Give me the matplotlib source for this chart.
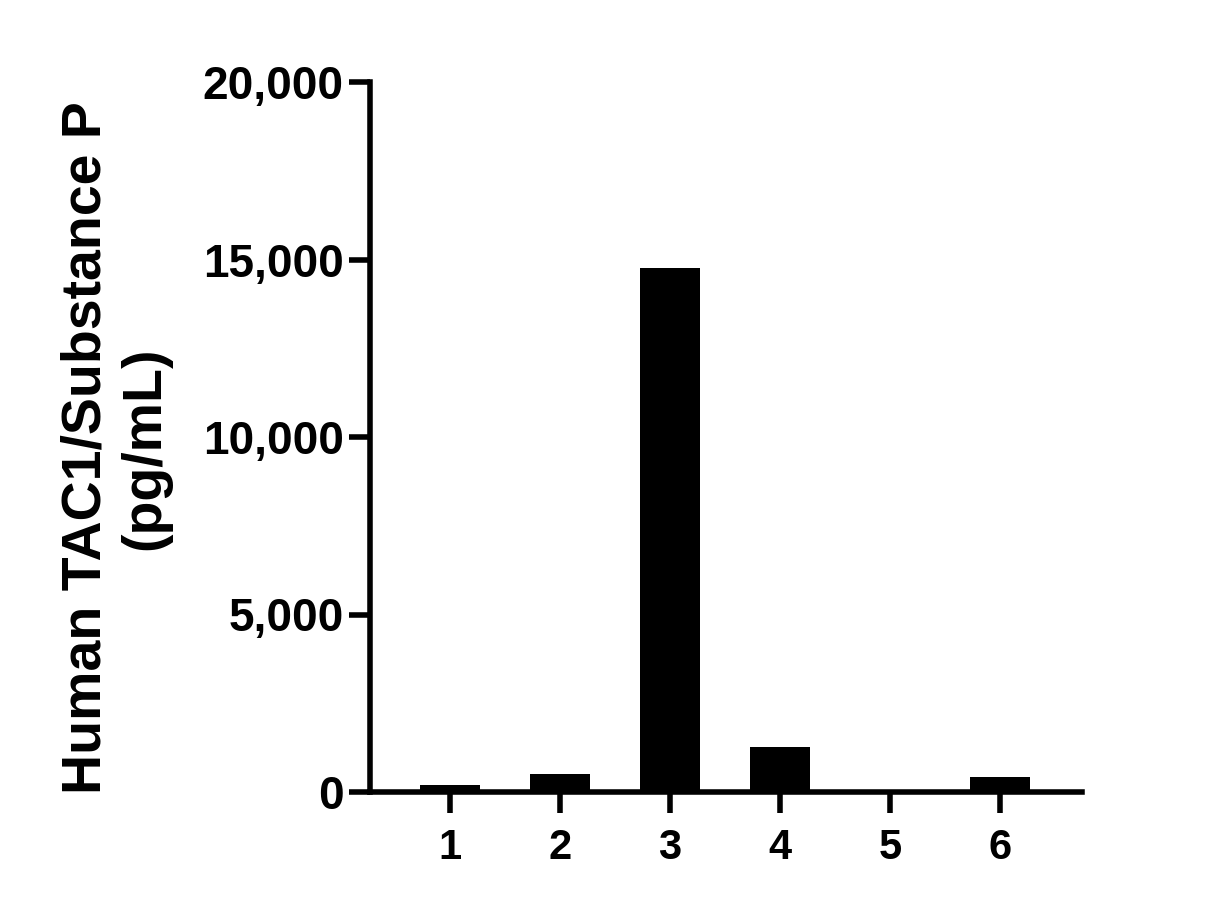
import matplotlib
matplotlib.use("Agg")
import matplotlib.pyplot as plt
from matplotlib.ticker import FuncFormatter

categories = ["1", "2", "3", "4", "5", "6"]
values = [190, 500, 14760, 1260, 0, 410]
yticks = [0, 5000, 10000, 15000, 20000]
ylabel = "Human TAC1/Substance P\n(pg/mL)"

plt.rcParams['font.family'] = ['Liberation Sans', 'DejaVu Sans']
plt.rcParams['font.weight'] = 'bold'

fig = plt.figure(figsize=(12.13, 9.09), dpi=100)
ax = fig.add_axes([370/1213, 1-792/909, (1082-370)/1213, (792-82)/909])

x = list(range(1, len(categories) + 1))
ax.bar(x, values, width=0.545, color='black', zorder=1)

ax.set_xlim(0.273, 6.745)
ax.set_ylim(0, 20000)
ax.set_xticks(x)
ax.set_xticklabels(categories)
ax.set_yticks(yticks)
ax.yaxis.set_major_formatter(FuncFormatter(lambda v, p: f"{int(v):,}"))

for s in ['top', 'right']:
    ax.spines[s].set_visible(False)
for s in ['left', 'bottom']:
    ax.spines[s].set_linewidth(4)
    ax.spines[s].set_capstyle('projecting')

ax.tick_params(axis='both', length=15, width=4, direction='out')
ax.tick_params(axis='y', labelsize=33, pad=4)
ax.tick_params(axis='x', labelsize=30, pad=11)
for lab in ax.get_xticklabels() + ax.get_yticklabels():
    lab.set_fontweight('bold')

fig.text(116/1213, 1-448/909, ylabel, rotation=90, ha='center', va='center',
         fontsize=40, fontweight='bold', linespacing=1.18, multialignment='center')

fig.savefig("out.png", dpi=100)
